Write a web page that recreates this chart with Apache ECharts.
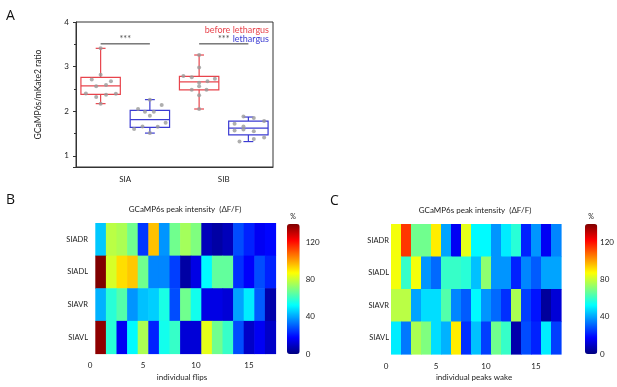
<!DOCTYPE html>
<html>
<head>
<meta charset="utf-8">
<script src="https://cdn.jsdelivr.net/npm/echarts@6/dist/echarts.min.js"></script>
<style>
  html, body { margin: 0; padding: 0; background: #fff; }
  #chart { width: 617px; height: 387px; }
</style>
</head>
<body>
<div id="chart"></div>
<script>
// panel A: ratio box plots
var groups = ['SIA', 'SIB'];
var boxPos = [0.5, 1.5, 2.5, 3.5];          // slot of each box on the hidden value axis
var boxState = [0, 1, 0, 1];                // 0 = before lethargus, 1 = lethargus
// [min, Q1, median, Q3, max]
var boxStats = [
  [2.17, 2.38, 2.57, 2.76, 3.41],
  [1.51, 1.64, 1.81, 2.02, 2.26],
  [2.05, 2.48, 2.66, 2.78, 3.26],
  [1.32, 1.47, 1.62, 1.78, 1.87]
];
var dotsX = [
  0.5, 0.5, 0.32, 0.71, 0.41, 0.61, 0.2, 0.81, 0.41, 0.61, 0.5,
  1.5, 1.26, 1.4, 1.58, 1.74, 1.5, 1.18, 1.35, 1.66, 1.82, 1.5,
  2.5, 2.5, 2.18, 2.35, 2.5, 2.67, 2.82, 2.35, 2.5, 2.65, 2.5, 2.5,
  3.22, 3.4, 3.61, 3.82, 3.22, 3.4, 3.4, 3.61, 3.32, 3.61, 3.82
];
var dotsY = [
  3.41, 2.82, 2.71, 2.67, 2.56, 2.59, 2.4, 2.39, 2.32, 2.37, 2.17,
  2.26, 2.05, 1.99, 1.99, 2.14, 1.9, 1.6, 1.66, 1.65, 1.74, 1.51,
  3.26, 2.98, 2.79, 2.76, 2.64, 2.67, 2.73, 2.48, 2.56, 2.48, 2.36, 2.05,
  1.72, 1.88, 1.85, 1.78, 1.57, 1.66, 1.59, 1.55, 1.32, 1.38, 1.41
];
var sigFrom = [0.5, 2.5];
var sigTo = [1.5, 3.5];
var sigY = 3.51;

// panels B and C: peak intensity heatmaps (%)
var neurons = ['SIADR', 'SIADL', 'SIAVR', 'SIAVL'];
var flipsB = [
  [45, 78, 76, 68, 25, 96, 38, 68, 75, 70, 8, 5, 8, 28, 22, 16, 18],
  [140, 82, 92, 95, 68, 36, 36, 26, 5, 14, 52, 66, 66, 24, 17, 28, 22],
  [42, 58, 64, 38, 44, 46, 56, 28, 68, 55, 14, 14, 12, 40, 50, 30, 6],
  [138, 58, 16, 52, 76, 22, 55, 60, 12, 12, 84, 68, 60, 28, 10, 16, 10]
];
var wakeC = [
  [86, 115, 68, 68, 90, 40, 16, 84, 52, 52, 38, 50, 58, 22, 38, 16, 36],
  [86, 60, 86, 38, 32, 60, 60, 58, 44, 72, 38, 38, 22, 36, 30, 40, 40],
  [78, 78, 40, 48, 48, 64, 36, 30, 52, 38, 32, 24, 76, 26, 20, 4, 12],
  [50, 34, 76, 70, 48, 42, 90, 24, 44, 26, 68, 60, 6, 28, 22, 50, 26]
];
var cbTicks = [0, 40, 80, 120];

var RED = '#e8444c';
var BLUE = '#3b3bd2';
var FONT = 'Lato';
var jet = ['#00007f', '#0000ff', '#007fff', '#00ffff', '#7fff7f', '#ffff00', '#ff7f00', '#ff0000', '#7f0000'];

var boxData = boxStats.map(function (s, i) {
  return [boxPos[i]].concat(s).concat([boxState[i]]);
});
var dotData = dotsX.map(function (x, i) { return [x, dotsY[i]]; });

function cells(rows) {
  var out = [];
  rows.forEach(function (row, r) {
    row.forEach(function (v, c) { out.push([c + 1, r, v]); });
  });
  return out;
}

function renderBox(params, api) {
  var x = api.value(0);
  var col = api.value(6) === 0 ? RED : BLUE;
  var half = api.size([0.4, 0])[0];
  var cap = api.size([0.1, 0])[0];
  var pMin = api.coord([x, api.value(1)]);
  var pQ1 = api.coord([x, api.value(2)]);
  var pMed = api.coord([x, api.value(3)]);
  var pQ3 = api.coord([x, api.value(4)]);
  var pMax = api.coord([x, api.value(5)]);
  var st = { stroke: col, lineWidth: 1.2, fill: null };
  return {
    type: 'group',
    children: [
      { type: 'rect', shape: { x: pQ3[0] - half, y: pQ3[1], width: half * 2, height: pQ1[1] - pQ3[1] }, style: st },
      { type: 'line', shape: { x1: pMed[0] - half, y1: pMed[1], x2: pMed[0] + half, y2: pMed[1] }, style: st },
      { type: 'line', shape: { x1: pQ3[0], y1: pQ3[1], x2: pMax[0], y2: pMax[1] }, style: st },
      { type: 'line', shape: { x1: pQ1[0], y1: pQ1[1], x2: pMin[0], y2: pMin[1] }, style: st },
      { type: 'line', shape: { x1: pMax[0] - cap, y1: pMax[1], x2: pMax[0] + cap, y2: pMax[1] }, style: st },
      { type: 'line', shape: { x1: pMin[0] - cap, y1: pMin[1], x2: pMin[0] + cap, y2: pMin[1] }, style: st }
    ]
  };
}

function renderCell(params, api) {
  var p = api.coord([api.value(0) - 0.5, api.value(1)]);
  var size = api.size([1, 1]);
  return {
    type: 'rect',
    shape: { x: p[0], y: p[1] - size[1] / 2, width: size[0] + 0.6, height: size[1] + 0.6 },
    style: { fill: api.visual('color') }
  };
}

var lbl = { fontFamily: FONT, fontSize: 8, color: '#222' };

var heatX = function (grid, margin) {
  return {
    type: 'value', gridIndex: grid, min: 0, max: 17.5, interval: 5,
    axisLine: { show: false }, axisTick: { show: false }, splitLine: { show: false },
    axisLabel: Object.assign({ margin: margin, showMaxLabel: false }, lbl)
  };
};
var heatY = function (grid, margin) {
  return {
    type: 'category', gridIndex: grid, data: neurons, inverse: true,
    axisLine: { show: false }, axisTick: { show: false },
    axisLabel: Object.assign({ margin: margin }, lbl, { fontSize: 7.5 })
  };
};
var cbX = function (grid) {
  return { type: 'value', gridIndex: grid, min: 0, max: 1, show: false };
};
var cbY = function (grid) {
  return {
    type: 'value', gridIndex: grid, min: 0, max: 140, interval: 40, position: 'right',
    axisLine: { show: false }, axisTick: { show: false }, splitLine: { show: false },
    axisLabel: Object.assign({ margin: 6, showMaxLabel: false }, lbl)
  };
};

var sigSeries = sigFrom.map(function (x0, i) {
  return {
    type: 'line', xAxisIndex: 1, yAxisIndex: 0, symbol: 'none', silent: true,
    lineStyle: { color: '#333', width: 1 },
    data: [[x0, sigY], [sigTo[i], sigY]]
  };
});

var chart = echarts.init(document.getElementById('chart'));
chart.setOption({
  animation: false,
  grid: [
    { left: 76, top: 22, width: 197, height: 145, show: true, borderColor: '#333', borderWidth: 1 },
    { left: 90, top: 223, width: 185.5, height: 130.5 },
    { left: 386, top: 224, width: 175, height: 130 },
    { left: 287, top: 224, width: 12.7, height: 130 },
    { left: 585, top: 224, width: 12.3, height: 130 }
  ],
  xAxis: [
    {
      type: 'category', gridIndex: 0, data: groups,
      axisLine: { lineStyle: { color: '#333' } },
      axisTick: { alignWithLabel: true, length: 3, lineStyle: { color: '#333' } },
      axisLabel: Object.assign({ margin: 8 }, lbl)
    },
    { type: 'value', gridIndex: 0, min: 0, max: 4, show: false },
    heatX(1, 8),
    heatX(2, 8),
    cbX(3),
    cbX(4)
  ],
  yAxis: [
    {
      type: 'value', gridIndex: 0, min: 0.75, max: 4, splitNumber: 3,
      name: 'GCaMP6s/mKate2 ratio', nameLocation: 'middle', nameGap: 33,
      nameTextStyle: { fontFamily: FONT, fontSize: 8.5, color: '#222' },
      axisLine: { show: true, lineStyle: { color: '#333' } },
      axisTick: { show: true, length: 3, lineStyle: { color: '#333' } },
      minorTick: { show: true, splitNumber: 2, length: 2, lineStyle: { color: '#333' } },
      splitLine: { show: false },
      axisLabel: Object.assign({
        margin: 7,
        formatter: function (v) { return Number.isInteger(v) ? String(v) : ''; }
      }, lbl)
    },
    heatY(1, 2),
    heatY(2, -3),
    cbY(3),
    cbY(4)
  ],
  visualMap: [
    {
      type: 'continuous', seriesIndex: 6, dimension: 2, min: 0, max: 140,
      left: 287, top: 224, itemWidth: 12.7, itemHeight: 130, padding: 0,
      calculable: false, realtime: false, inRange: { color: jet }, textStyle: { fontSize: 0 }
    },
    {
      type: 'continuous', seriesIndex: 7, dimension: 2, min: 0, max: 140,
      left: 585, top: 224, itemWidth: 12.3, itemHeight: 130, padding: 0,
      calculable: false, realtime: false, inRange: { color: jet }, textStyle: { fontSize: 0 }
    }
  ],
  graphic: [
    { type: 'text', x: 6, y: 9, style: { text: 'A', font: '14px "Open Sans"', fill: '#111' } },
    { type: 'text', x: 6, y: 193, style: { text: 'B', font: '14px "Open Sans"', fill: '#111' } },
    { type: 'text', x: 330, y: 194, style: { text: 'C', font: '14px "Open Sans"', fill: '#111' } },
    { type: 'text', x: 269, y: 30, style: { text: 'before lethargus', font: '9px Lato', fill: RED, textAlign: 'right', textVerticalAlign: 'middle' } },
    { type: 'text', x: 269, y: 39, style: { text: 'lethargus', font: '9px Lato', fill: BLUE, textAlign: 'right', textVerticalAlign: 'middle' } },
    { type: 'text', x: 185, y: 209, style: { text: 'GCaMP6s peak intensity  (ΔF/F)', font: '8px Lato', fill: '#222', textAlign: 'center', textVerticalAlign: 'middle' } },
    { type: 'text', x: 475, y: 210, style: { text: 'GCaMP6s peak intensity  (ΔF/F)', font: '8px Lato', fill: '#222', textAlign: 'center', textVerticalAlign: 'middle' } },
    { type: 'text', x: 182, y: 377, style: { text: 'individual flips', font: '8px Lato', fill: '#222', textAlign: 'center', textVerticalAlign: 'middle' } },
    { type: 'text', x: 474, y: 377, style: { text: 'individual peaks wake', font: '8px Lato', fill: '#222', textAlign: 'center', textVerticalAlign: 'middle' } },
    { type: 'text', x: 293, y: 217, style: { text: '%', font: '7px Lato', fill: '#222', textAlign: 'center', textVerticalAlign: 'middle' } },
    { type: 'text', x: 591, y: 217, style: { text: '%', font: '7px Lato', fill: '#222', textAlign: 'center', textVerticalAlign: 'middle' } }
  ],
  series: [
    {
      type: 'custom', xAxisIndex: 1, yAxisIndex: 0, renderItem: renderBox,
      encode: { x: 0, y: [1, 2, 3, 4, 5] }, data: boxData, silent: true
    },
    {
      type: 'scatter', xAxisIndex: 1, yAxisIndex: 0, symbol: 'circle', symbolSize: 4,
      itemStyle: { color: '#9a9a9a' }, data: dotData, silent: true
    },
    sigSeries[0],
    sigSeries[1],
    {
      type: 'scatter', xAxisIndex: 1, yAxisIndex: 0, symbolSize: 0, silent: true,
      label: { show: true, position: 'top', distance: 0, formatter: '***', fontFamily: FONT, fontSize: 9, color: '#222' },
      data: sigFrom.map(function (x0, i) { return [(x0 + sigTo[i]) / 2, sigY]; })
    },
    { type: 'scatter', xAxisIndex: 4, yAxisIndex: 3, data: [] },
    {
      type: 'custom', xAxisIndex: 2, yAxisIndex: 1, renderItem: renderCell,
      encode: { x: 0, y: 1 }, data: cells(flipsB), silent: true
    },
    {
      type: 'custom', xAxisIndex: 3, yAxisIndex: 2, renderItem: renderCell,
      encode: { x: 0, y: 1 }, data: cells(wakeC), silent: true
    },
    { type: 'scatter', xAxisIndex: 5, yAxisIndex: 4, data: [] }
  ]
});
</script>
</body>
</html>
